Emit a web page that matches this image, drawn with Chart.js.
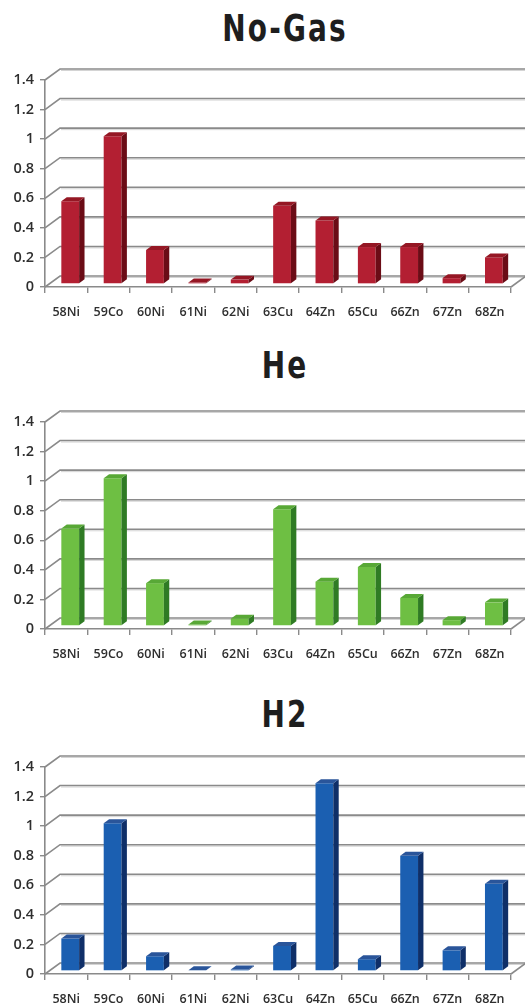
<!DOCTYPE html>
<html>
<head>
<meta charset="utf-8">
<script src="https://cdn.jsdelivr.net/npm/chart.js@4.4.1/dist/chart.umd.min.js"></script>
<style>
  html, body { margin: 0; padding: 0; background: #ffffff; width: 525px; height: 1007px; overflow: hidden; }
  .title { position: absolute; left: 160px; width: 250px; text-align: center;
           font-family: "Liberation Sans Narrow", "DejaVu Sans Condensed", "Roboto", sans-serif;
           font-weight: bold; font-size: 37px; line-height: 37px; color: #1e1e1e; letter-spacing: 2.5px;
           transform: scaleX(0.84); transform-origin: 125px 0; }
  .box { position: absolute; left: 0; width: 525px; height: 267px; }
</style>
</head>
<body>
<div class="title" style="top:10px">No-Gas</div>
<div class="box" style="top:60px"><canvas id="c1" width="525" height="267"></canvas></div>
<div class="title" style="top:347px">He</div>
<div class="box" style="top:402px"><canvas id="c2" width="525" height="267"></canvas></div>
<div class="title" style="top:696px">H2</div>
<div class="box" style="top:747px"><canvas id="c3" width="525" height="267"></canvas></div>
<script>
// ---- data ----
const categories = ["58Ni", "59Co", "60Ni", "61Ni", "62Ni", "63Cu", "64Zn", "65Cu", "66Zn", "67Zn", "68Zn"];
const noGasValues = [0.56, 1.0, 0.23, 0.01, 0.03, 0.53, 0.43, 0.25, 0.25, 0.04, 0.18];
const heValues    = [0.66, 1.0, 0.29, 0.01, 0.05, 0.79, 0.30, 0.40, 0.19, 0.04, 0.16];
const h2Values    = [0.22, 1.0, 0.10, 0.005, 0.01, 0.17, 1.27, 0.08, 0.78, 0.14, 0.59];
const yTickValues = [0, 0.2, 0.4, 0.6, 0.8, 1, 1.2, 1.4];
const yTickLabels = ["0", "0.2", "0.4", "0.6", "0.8", "1", "1.2", "1.4"];

// ---- 3D look ----
const DX = 15, DY = -11;      // back wall offset
const F1 = 0.27, F2 = 0.63;   // bar front / back depth fractions
const GRID = '#8a8a8a';

const threeD = {
  id: 'threeD',
  beforeDatasetsDraw(chart, args, opts) {
    const ctx = chart.ctx, ca = chart.chartArea;
    const y = chart.scales.y;
    ctx.save();
    yTickValues.forEach(v => {
      const py = y.getPixelForValue(v);
      ctx.lineWidth = 1;
      ctx.strokeStyle = '#d4d4d4';
      ctx.beginPath();
      ctx.moveTo(ca.left + DX + 1, py + DY + 1.5);
      ctx.lineTo(chart.width + 2, py + DY + 1.5);
      ctx.stroke();
      ctx.lineWidth = 1.6;
      ctx.strokeStyle = GRID;
      ctx.beginPath();
      ctx.moveTo(ca.left, py);
      ctx.lineTo(ca.left + DX, py + DY);
      ctx.lineTo(chart.width + 2, py + DY);
      ctx.stroke();
    });
    const p0 = y.getPixelForValue(0);
    ctx.beginPath();
    ctx.moveTo(ca.right, p0);
    ctx.lineTo(ca.right + DX, p0 + DY);
    ctx.stroke();
    ctx.restore();
    ctx.save();
    ctx.translate(F1 * DX, F1 * DY);
  },
  afterDatasetsDraw(chart, args, opts) {
    const ctx = chart.ctx;
    const ddx = (F2 - F1) * DX, ddy = (F2 - F1) * DY;
    const meta = chart.getDatasetMeta(0);
    meta.data.forEach(bar => {
      const p = bar.getProps(['x', 'y', 'base', 'width'], true);
      const l = p.x - p.width / 2, r = p.x + p.width / 2;
      ctx.fillStyle = opts.side;
      ctx.beginPath();
      ctx.moveTo(r, p.y); ctx.lineTo(r + ddx, p.y + ddy);
      ctx.lineTo(r + ddx, p.base + ddy); ctx.lineTo(r, p.base);
      ctx.closePath(); ctx.fill();
      ctx.fillStyle = opts.top;
      ctx.beginPath();
      ctx.moveTo(l, p.y); ctx.lineTo(l + ddx, p.y + ddy);
      ctx.lineTo(r + ddx, p.y + ddy); ctx.lineTo(r, p.y);
      ctx.closePath(); ctx.fill();
    });
    ctx.restore();
  }
};

function makeChart(id, values, front, side, top) {
  return new Chart(document.getElementById(id), {
    type: 'bar',
    data: {
      labels: categories,
      datasets: [{ data: values, backgroundColor: front, borderWidth: 0,
                   barPercentage: 0.42, categoryPercentage: 1.0 }]
    },
    options: {
      responsive: false,
      animation: false,
      events: [],
      layout: { padding: { top: 20, right: 14, bottom: 7, left: 0 } },
      plugins: { legend: { display: false }, tooltip: { enabled: false },
                 threeD: { side: side, top: top } },
      scales: {
        x: {
          afterFit: s => { s.height = 33; },
          grid: { offset: true, drawOnChartArea: false, drawTicks: true, tickLength: 6, color: GRID, lineWidth: 1.4 },
          border: { display: true, color: GRID, width: 1.6 },
          ticks: { padding: 12, color: '#2e2e2e', maxRotation: 0, autoSkip: false,
                   font: { family: '"Open Sans", sans-serif', size: 12.5, weight: '600' } }
        },
        y: {
          min: 0, max: 1.4,
          afterFit: s => { s.width = 45; },
          afterBuildTicks: s => { s.ticks = yTickValues.map(v => ({ value: v })); },
          grid: { drawOnChartArea: false, drawTicks: true, tickLength: 5, color: GRID, lineWidth: 1.4 },
          border: { display: true, color: GRID, width: 1.6 },
          ticks: { padding: 6, color: '#2e2e2e',
                   callback: (v, i) => yTickLabels[i],
                   font: { family: '"Open Sans", sans-serif', size: 14.5, weight: '600' } }
        }
      }
    },
    plugins: [threeD]
  });
}

makeChart('c1', noGasValues, '#b31f32', '#6b0c16', '#951724');
makeChart('c2', heValues,    '#6ebf43', '#2f7b24', '#58a836');
makeChart('c3', h2Values,    '#1b5fb1', '#0f2f68', '#2a559a');
</script>
</body>
</html>
